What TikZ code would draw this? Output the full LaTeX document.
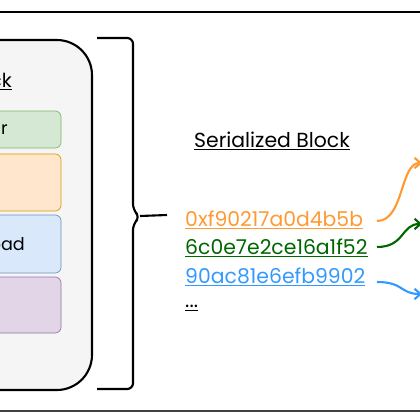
\documentclass[tikz,border=0pt]{standalone}
\usepackage{fontspec}
\setmainfont{Poppins}
\usetikzlibrary{arrows.meta,positioning,calc}
\definecolor{hexOrange}{HTML}{FF9933}
\definecolor{hexGreen}{HTML}{006600}
\definecolor{hexBlue}{HTML}{3399FF}
\definecolor{hdrFill}{HTML}{D5E8D4}
\definecolor{hdrLine}{HTML}{82B366}
\definecolor{txFill}{HTML}{FFE6CC}
\definecolor{txLine}{HTML}{D79B00}
\definecolor{plFill}{HTML}{DAE8FC}
\definecolor{plLine}{HTML}{6C8EBF}
\definecolor{sgFill}{HTML}{E1D5E7}
\definecolor{sgLine}{HTML}{9673A6}

\begin{document}
\begin{tikzpicture}[x=0.03cm, y=-0.03cm,
    field/.style={draw, rounded corners=5, line width=0.6pt},
    cuttext/.style={anchor=east, inner sep=0pt, font=\fontsize{15}{17}\selectfont},
    hexline/.style={anchor=west, inner sep=0pt, font=\fontsize{17.4}{20}\selectfont},
    flow/.style={-{Straight Barb[length=5pt,width=9pt]}, line width=1.8pt}]
    \useasboundingbox (0,0) rectangle (420,420);
    \clip (0,0) rectangle (420,420);
    \draw[line width=0.9pt] (0,12) -- (420,12);
    \draw[line width=1.3pt, black!75] (0,411) -- (420,411);
    % block container and its fields
    \draw[line width=1.8pt, fill=black!4, rounded corners=30] (-60,40) rectangle (92,390);
    \draw[field, hdrLine, fill=hdrFill] (-40,111) rectangle (61,148);
    \draw[field, txLine, fill=txFill] (-40,154) rectangle (61,211);
    \draw[field, plLine, fill=plFill] (-40,215) rectangle (61,273);
    \draw[field, sgLine, fill=sgFill] (-40,277) rectangle (61,333);
    \node[cuttext, font=\fontsize{16.5}{18}\selectfont] (title) at (12,82) {\underline{ck}};
    \node[cuttext] (hdr) at (8,130) {r};
    \node[cuttext] (pld) at (25,244) {oad};
    % brace
    \draw[line width=1.8pt, rounded corners=5] (97,38) -- (133,38) -- (133,210) -- (140,217)
        -- (133,224) -- (133,389) -- (97,389);
    \coordinate (tip) at (140,216);
    % serialized side
    \node[inner sep=0pt, font=\fontsize{17.4}{20}\selectfont] (ser) at (272,141) {\underline{Serialized Block}};
    \node[hexline, hexOrange] (h1) at (185,220) {\underline{0xf90217a0d4b5b}};
    \node[hexline, hexGreen] (h2) at (185,248) {\underline{6c0e7e2ce16a1f52}};
    \node[hexline, hexBlue] (h3) at (185,277) {\underline{90ac81e6efb9902}};
    \node[hexline] (more) at (185,308) {\underline{...}};
    \coordinate (lineEnd) at (167,215);
    \draw[line width=1.8pt] (tip) -- (lineEnd);
    \coordinate (o1) at (422,163);
    \coordinate (o2) at (422,224);
    \coordinate (o3) at (422,294);
    \draw[flow, hexOrange] (377,221) .. controls (404,221) and (400,163) .. (o1);
    \draw[flow, hexGreen] (377,247) .. controls (405,247) and (401,224) .. (o2);
    \draw[flow, hexBlue] (377,282) .. controls (404,282) and (400,294) .. (o3);
\end{tikzpicture}
\end{document}
